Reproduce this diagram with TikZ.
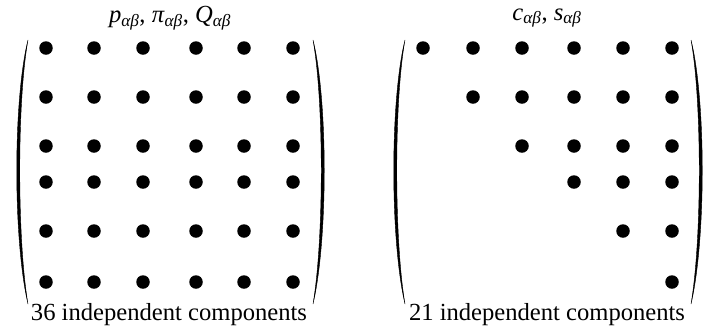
\documentclass[tikz,border=0pt]{standalone}
\usepackage{fontspec}
\setmainfont{Liberation Serif}
\newcommand{\gsub}[1]{\textsubscript{\itshape #1}}
\begin{document}
\begin{tikzpicture}[x=1pt,y=-1pt,
  dot/.style={circle,fill=black,inner sep=0pt,minimum size=13.5pt},
  lbl/.style={font=\fontsize{24.6}{28}\selectfont,inner sep=0pt},
  paren/.style={fill=black,draw=black,line width=0.4pt}]
\useasboundingbox (0,0) rectangle (706,333);
% titles
\node[lbl] (t1) at (170,18) {\textit{p}\gsub{αβ}, \textit{π}\gsub{αβ}, \textit{Q}\gsub{αβ}};
\node[lbl] (t2) at (547,18) {\textit{c}\gsub{αβ}, \textit{s}\gsub{αβ}};
\node[lbl] (b1) at (169,315) {36 independent components};
\node[lbl] (b2) at (547,315) {21 independent components};
% left matrix dots
\foreach \x [count=\i] in {46,94,143,196,244,293}
  \foreach \y [count=\j] in {48,97,146,182,231,282}
    \node[dot] (L\j\i) at (\x,\y) {};
% right matrix dots (upper triangle)
\def\rx{{0,423,473,522,574,623,672}}
\def\ry{{0,48,97,146,182,231,282}}
\foreach \i in {1,...,6}
  \foreach \j in {1,...,\i}
    \node[dot] (R\j\i) at ({\rx[\i]},{\ry[\j]}) {};
% parentheses
\fill[paren] (28,40) .. controls (13,100) and (13,240) .. (28,304) .. controls (17,240) and (17,100) .. cycle;
\fill[paren] (313,40) .. controls (328,100) and (328,240) .. (313,304) .. controls (324,240) and (324,100) .. cycle;
\fill[paren] (405,40) .. controls (390,100) and (390,240) .. (405,304) .. controls (394,240) and (394,100) .. cycle;
\fill[paren] (691,40) .. controls (706,100) and (706,240) .. (691,304) .. controls (702,240) and (702,100) .. cycle;
\end{tikzpicture}
\end{document}
